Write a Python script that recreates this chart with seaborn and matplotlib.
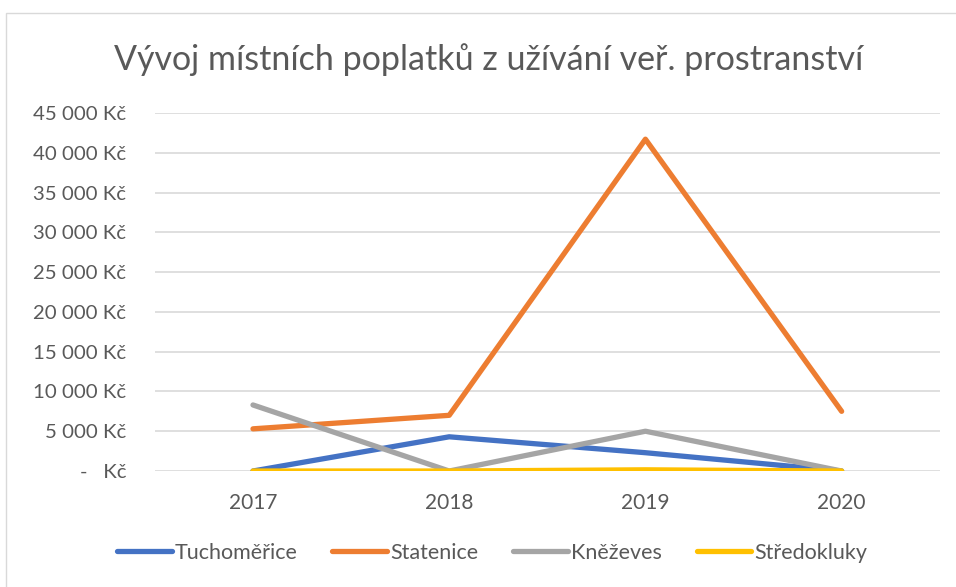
import matplotlib
matplotlib.use("Agg")
import matplotlib.pyplot as plt
import seaborn as sns
import pandas as pd
from matplotlib.patches import Rectangle

years = ["2017", "2018", "2019", "2020"]
tuchomerice = [0, 4300, 2300, 0]
statenice = [5300, 7000, 41700, 7500]
knezeves = [8300, 0, 5000, 0]
stredokluky = [0, 0, 150, 0]
series_names = ["Tuchoměřice", "Statenice", "Kněževes", "Středokluky"]
colors = ["#4472C4", "#ED7D31", "#A5A5A5", "#FFC000"]
yticks = [0, 5000, 10000, 15000, 20000, 25000, 30000, 35000, 40000, 45000]

df = pd.DataFrame({
    "Rok": years * 4,
    "Obec": sum([[n] * 4 for n in series_names], []),
    "Hodnota": tuchomerice + statenice + knezeves + stredokluky,
})
df["x"] = list(range(4)) * 4

sns.set_theme(style="white")
plt.rcParams["font.family"] = ["Lato", "DejaVu Sans"]
txt = "#595959"

fig = plt.figure(figsize=(9.56, 5.87), dpi=100)
ax = fig.add_axes([0.162, 0.1976, 0.821, 0.61])

sns.lineplot(data=df, x="x", y="Hodnota", hue="Obec", palette=colors,
             hue_order=series_names, ax=ax, linewidth=3.8, legend=False,
             solid_capstyle="round", sort=False)

ax.set_xlim(-0.5, 3.5)
ax.set_ylim(0, 45000)
ax.set_yticks(yticks)

def fmt(v):
    if v == 0:
        return "-   Kč"
    return f"{v:,}".replace(",", " ") + " Kč"

ax.set_yticklabels([fmt(v) for v in yticks], fontsize=14.7, color=txt)
ax.set_xticks(range(4))
ax.set_xticklabels(years, fontsize=15, color=txt)
ax.tick_params(axis="y", length=0, pad=20.5)
ax.tick_params(axis="x", length=0, pad=16)
ax.set_xlabel("")
ax.set_ylabel("")
ax.grid(axis="y", color="#D9D9D9", linewidth=1.2)
ax.set_axisbelow(True)
for s in ax.spines.values():
    s.set_visible(False)

fig.text(0.511, 0.898, "Vývoj místních poplatků z užívání veř. prostranství",
         ha="center", va="center", fontsize=24.5, color=txt)

handles = [plt.Line2D([0], [0], color=c, linewidth=3.8, solid_capstyle="round") for c in colors]
fig.legend(handles, series_names, loc="center", bbox_to_anchor=(0.515, 0.058), ncol=4,
           frameon=False, fontsize=15.5, labelcolor=txt, handlelength=2.55,
           handletextpad=0.15, columnspacing=1.6)

fig.patches.append(Rectangle((0.006, -0.01), 1.0, 0.988, transform=fig.transFigure,
                             fill=False, edgecolor="#D9D9D9", linewidth=1.0))

fig.savefig("out.png", dpi=100, facecolor="white")
